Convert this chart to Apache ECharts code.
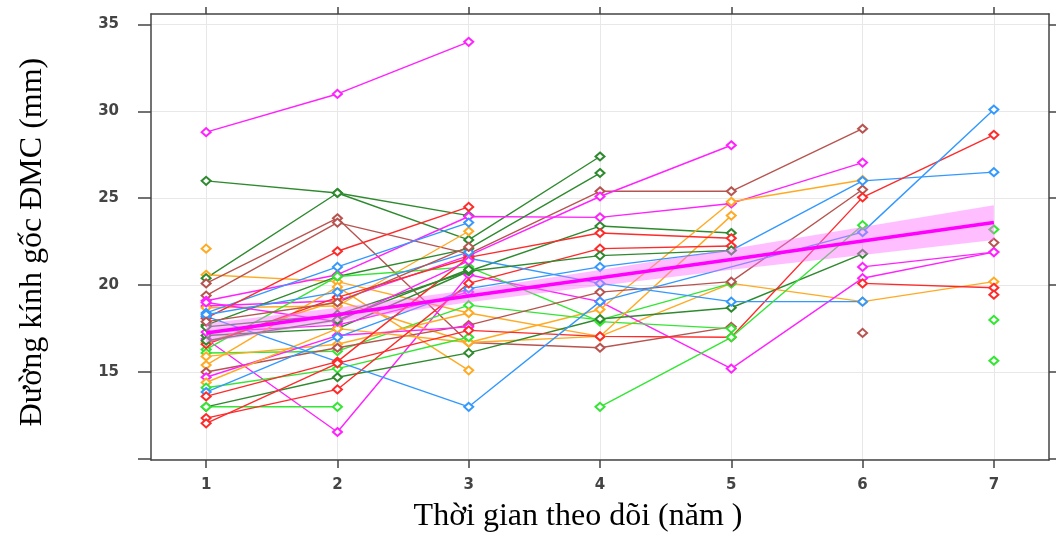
<!DOCTYPE html>
<html>
<head>
<meta charset="utf-8">
<script src="https://cdn.jsdelivr.net/npm/echarts@6/dist/echarts.min.js"></script>
<style>
html, body { margin: 0; padding: 0; background: #fff; }
#chart { width: 1057px; height: 536px; }
</style>
</head>
<body>
<div id="chart"></div>
<script>
var years = [1, 2, 3, 4, 5, 6, 7];
var xTicks = [1, 2, 3, 4, 5, 6, 7];
var yTicks = [10, 15, 20, 25, 30, 35];
var yLabels = [15, 20, 25, 30, 35];

// one row per patient, values for year 1..7 (null = not measured)
var subjColor = [
    'm', 'dg', 'o', 'o', 'dg', 'br', 'br', 'm', 'm', 'o',
    'bl', 'r', 'dg', 'm', 'dg', 'm', 'o', 'g', 'g', 'o',
    'o', 'br', 'm', 'o', 'g', 'bl', 'r', 'dg', 'g', 'r',
    'r', 'bl', 'bl', 'r', 'm', 'r', 'dg',
    'g', 'br', 'r', 'g', 'g', 'br',
    'm', 'bl', 'br', 'dg'
];
var subjValues = [
    [28.8, 31.0, 34.0, null, null, null, null],
    [26.0, 25.3, 24.0, null, null, null, null],
    [22.1, null, null, null, null, null, null],
    [20.6, 20.2, 18.4, 17.05, 20.1, 19.05, 20.2],
    [20.4, 25.3, 22.6, 27.4, null, null, null],
    [20.1, 23.85, 16.7, 16.4, 17.6, null, null],
    [19.4, 23.6, 21.8, 25.4, 25.4, 29.0, null],
    [19.1, 20.6, 23.95, 23.9, 24.7, 27.05, null],
    [18.8, 19.1, 21.7, 25.1, 28.05, null, null],
    [18.7, 18.8, 23.1, null, null, null, null],
    [18.4, 21.05, 23.6, null, null, null, null],
    [18.1, 21.95, 24.5, null, null, null, null],
    [17.7, 20.5, 22.1, 26.45, null, null, null],
    [16.9, 11.55, 20.6, 19.05, 15.2, 20.4, 21.9],
    [17.1, 17.5, 20.8, 23.4, 23.0, null, null],
    [17.3, 17.7, 19.6, null, null, null, null],
    [16.7, 19.1, 16.7, 18.6, 24.8, 26.05, null],
    [16.3, 20.5, 21.05, 17.9, 17.5, null, null],
    [16.1, 16.2, 18.85, 18.0, 20.1, null, null],
    [15.9, 16.6, 18.4, null, null, null, null],
    [15.4, 19.9, 15.1, null, null, null, null],
    [15.0, 16.4, 17.7, 19.6, 20.2, 25.5, null],
    [14.7, 17.1, 17.6, null, null, null, null],
    [14.4, 17.5, 16.7, 17.05, 24.0, null, null],
    [14.1, 15.2, 17.0, null, null, null, null],
    [13.85, 17.0, 19.8, 21.05, 22.0, 26.0, 26.5],
    [13.6, 15.6, 21.6, 23.0, 22.7, null, null],
    [13.0, 14.7, 16.1, 18.05, 18.7, 21.8, null],
    [13.0, 13.0, null, null, null, null, null],
    [12.35, 14.0, 20.1, 22.1, 22.25, null, null],
    [12.05, 15.5, 17.4, 17.05, 17.0, 25.05, 28.65],
    [18.2, null, 13.0, 19.05, null, 23.05, 30.1],
    [null, null, 21.55, 20.1, 19.05, 19.05, null],
    [16.6, 19.3, 21.55, null, null, null, null],
    [null, null, null, null, null, 21.05, 21.9],
    [null, null, null, null, null, 20.1, 19.85],
    [17.6, 18.3, 20.8, 21.7, 22.0, null, null],
    [null, null, null, 13.0, 17.0, 23.45, null],
    [null, null, null, null, null, null, 22.45],
    [null, null, null, null, null, null, 19.45],
    [null, null, null, null, null, null, 23.2],
    [null, null, null, null, null, null, 18.0],
    [null, null, null, null, null, 17.25, null],
    [19.0, 17.9, 21.4, null, null, null, null],
    [18.3, 19.6, 21.9, null, null, null, null],
    [17.9, 19.0, 22.2, null, null, null, null],
    [16.8, 18.0, 20.9, null, null, null, null]
];
var extraPoints = [[7, 15.65]];

// fitted mean trend and its confidence band
var trendFit = [17.25, 18.3, 19.37, 20.42, 21.48, 22.54, 23.6];
var bandLow = [16.7, 17.9, 19.02, 19.97, 20.88, 21.74, 22.6];
var bandHigh = [17.8, 18.7, 19.72, 20.87, 22.08, 23.34, 24.6];

var palette = {
    m: '#ff22ff',
    dg: '#2f8a2f',
    br: '#b85450',
    r: '#ff2a2a',
    bl: '#3399ff',
    o: '#ffaa22',
    g: '#33e633'
};

var chart = echarts.init(document.getElementById('chart'));

var series = [];
for (var i = 0; i < subjValues.length; i++) {
    var pts = [];
    for (var k = 0; k < years.length; k++) {
        if (subjValues[i][k] != null) pts.push([years[k], subjValues[i][k]]);
    }
    var c = palette[subjColor[i]];
    series.push({
        type: 'line',
        data: pts,
        symbol: 'emptyDiamond',
        symbolSize: [9, 8],
        lineStyle: { color: c, width: 1.4 },
        itemStyle: { color: c, borderWidth: 1.3 },
        silent: true,
        z: 3
    });
}
series.push({
    type: 'line',
    data: extraPoints,
    symbol: 'emptyDiamond',
    symbolSize: [9, 8],
    lineStyle: { color: palette.g, width: 1.4 },
    itemStyle: { color: palette.g, borderWidth: 1.3 },
    silent: true,
    z: 3
});

// band
series.push({
    type: 'custom',
    data: [0],
    z: 4,
    silent: true,
    renderItem: function (params, api) {
        var poly = [];
        for (var k = 0; k < years.length; k++) poly.push(api.coord([years[k], bandHigh[k]]));
        for (var k = years.length - 1; k >= 0; k--) poly.push(api.coord([years[k], bandLow[k]]));
        return {
            type: 'polygon',
            shape: { points: poly },
            style: { fill: 'rgba(255,110,255,0.45)' }
        };
    }
});

var trendPts = [];
for (var k = 0; k < years.length; k++) trendPts.push([years[k], trendFit[k]]);
series.push({
    type: 'line',
    data: trendPts,
    symbol: 'none',
    lineStyle: { color: '#ff00ff', width: 3.5 },
    silent: true,
    z: 5
});

var axisLineStyle = { color: '#444', width: 1.5 };
var tickFont = { color: '#444', fontSize: 15, fontWeight: 'bold', fontFamily: 'DejaVu Sans' };

option = {
    animation: false,
    grid: { left: 151, right: 8, top: 14, bottom: 76 },
    xAxis: [
        {
            type: 'value',
            min: 0.58,
            max: 7.42,
            axisLine: { show: true, lineStyle: axisLineStyle },
            axisTick: { show: true, length: 8, customValues: xTicks, lineStyle: axisLineStyle },
            axisLabel: Object.assign({ customValues: xTicks, margin: 18 }, tickFont),
            splitLine: { show: true, lineStyle: { color: '#e8e8e8', width: 1 } }
        },
        {
            type: 'value',
            position: 'top',
            min: 0.58,
            max: 7.42,
            axisLine: { show: true, lineStyle: axisLineStyle },
            axisTick: { show: true, length: 7, customValues: xTicks, lineStyle: axisLineStyle },
            axisLabel: { show: false },
            splitLine: { show: false }
        }
    ],
    yAxis: [
        {
            type: 'value',
            min: 9.94,
            max: 35.6,
            axisLine: { show: true, lineStyle: axisLineStyle },
            axisTick: { show: true, length: 13, customValues: yTicks, lineStyle: axisLineStyle },
            axisLabel: Object.assign({ customValues: yLabels, margin: 32 }, tickFont),
            splitLine: { show: true, lineStyle: { color: '#e8e8e8', width: 1 } }
        },
        {
            type: 'value',
            position: 'right',
            min: 9.94,
            max: 35.6,
            axisLine: { show: true, lineStyle: axisLineStyle },
            axisTick: { show: true, length: 7, customValues: yTicks, lineStyle: axisLineStyle },
            axisLabel: { show: false },
            splitLine: { show: false }
        }
    ],
    graphic: [
        {
            type: 'text',
            x: 578,
            y: 517,
            style: {
                text: 'Thời gian theo dõi (năm )',
                font: '32px "Liberation Serif"',
                fill: '#000',
                textAlign: 'center',
                textVerticalAlign: 'middle'
            }
        },
        {
            type: 'text',
            x: 33,
            y: 242,
            rotation: Math.PI / 2,
            style: {
                text: 'Đường kính gốc ĐMC (mm)',
                font: '32px "Liberation Serif"',
                fill: '#000',
                textAlign: 'center',
                textVerticalAlign: 'middle'
            }
        }
    ],
    series: series
};
chart.setOption(option);
</script>
</body>
</html>
